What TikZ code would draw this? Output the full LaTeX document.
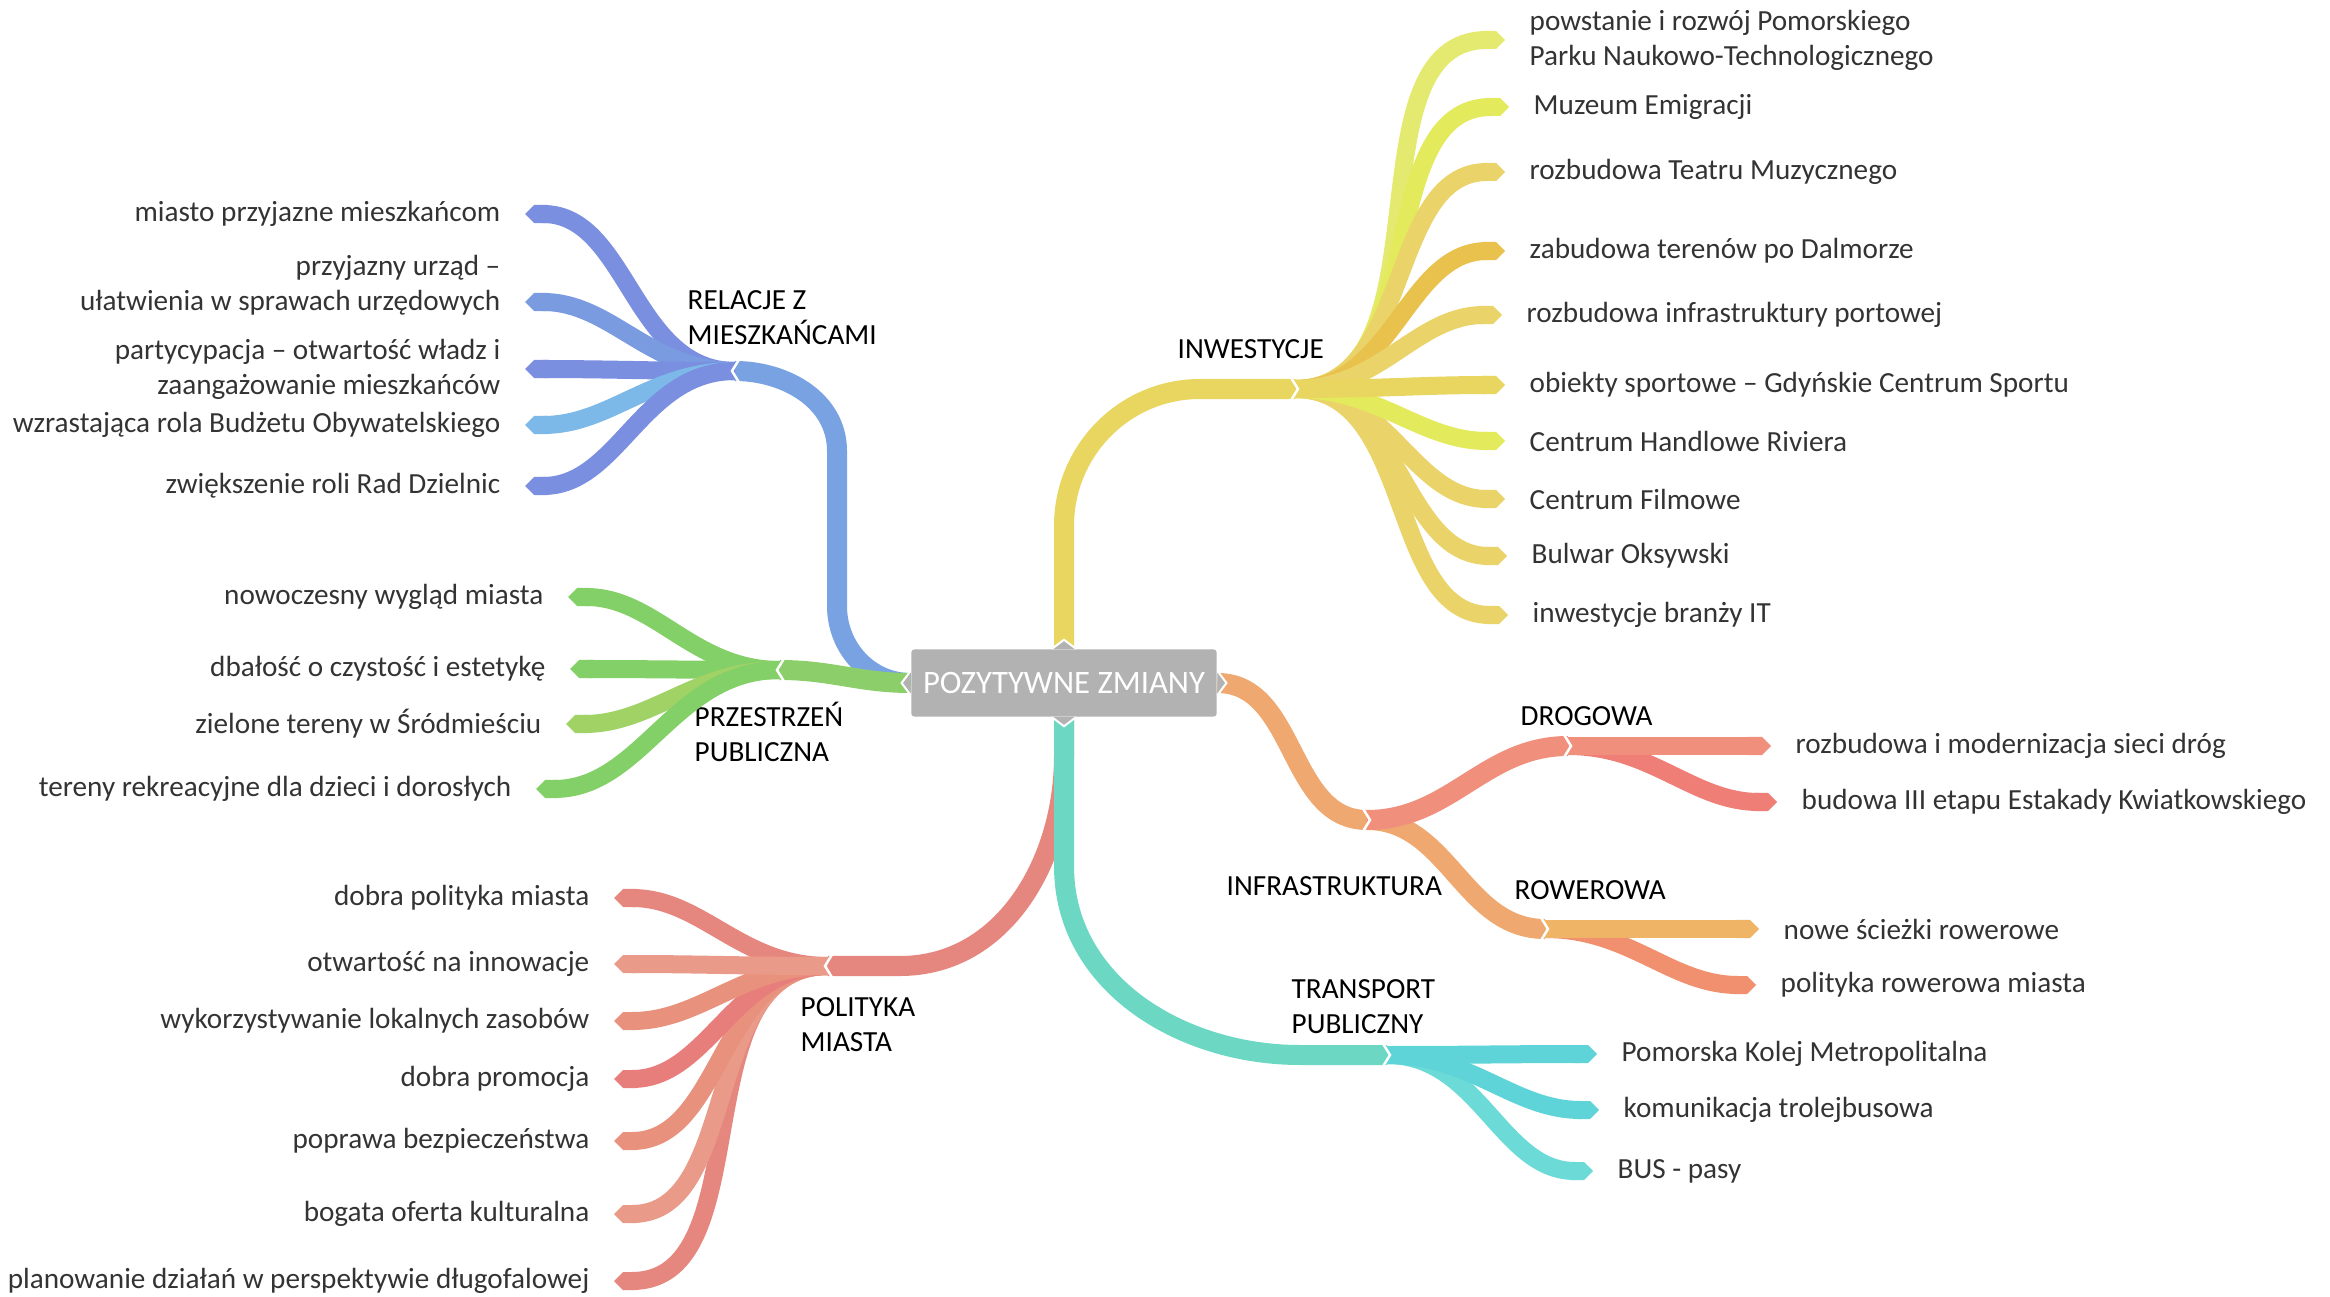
\documentclass[tikz,border=0pt]{standalone}
\usepackage{fontspec}
\setmainfont{Carlito}
\usetikzlibrary{arrows.meta,calc}

\definecolor{blauA}{HTML}{78A2E2}
\definecolor{blauB}{HTML}{7B8FE0}
\definecolor{blauC}{HTML}{7A9BE0}
\definecolor{blauD}{HTML}{7DB9E8}
\definecolor{gruenA}{HTML}{8CCF6A}
\definecolor{gruenB}{HTML}{84D068}
\definecolor{gruenC}{HTML}{A0D266}
\definecolor{lachsA}{HTML}{E6877F}
\definecolor{lachsB}{HTML}{E99A88}
\definecolor{lachsC}{HTML}{E87E7C}
\definecolor{lachsD}{HTML}{E8927E}
\definecolor{gelbA}{HTML}{E8D660}
\definecolor{gelbB}{HTML}{E3EA5C}
\definecolor{gelbC}{HTML}{EAD46A}
\definecolor{gelbD}{HTML}{E9C24E}
\definecolor{gelbE}{HTML}{E4EA70}
\definecolor{orangeA}{HTML}{EEA870}
\definecolor{drogA}{HTML}{F0907C}
\definecolor{drogB}{HTML}{EE7E76}
\definecolor{rowA}{HTML}{F0B466}
\definecolor{rowB}{HTML}{F0906E}
\definecolor{tuerkisA}{HTML}{6CD8C4}
\definecolor{tuerkisB}{HTML}{5ED4D8}
\definecolor{tuerkisC}{HTML}{6CDAD6}

\tikzset{
	leafL/.style={anchor=east, align=right, inner xsep=0.24cm, inner ysep=0pt, font=\fontsize{8.3}{10}\selectfont, text=black!80},
	leafR/.style={leafL, anchor=west, align=left},
	topic/.style={anchor=west, align=left, inner sep=0pt, font=\fontsize{8.3}{10}\selectfont},
	wurzel/.style={fill=black!30, rounded corners=0.03cm, text=white, minimum width=3.05cm, minimum height=0.67cm, font=\fontsize{9.3}{11}\selectfont},
	ast/.style={line width=0.2cm},
	zweig/.style={line width=0.18cm, -{Triangle Cap}},
	notch/.pic={\draw[white, line width=0.025cm] (-5,13) -- (3,0) -- (-5,-13);},
	tab/.pic={\filldraw[fill=black!30, draw=white, line width=0.02cm] (0,12) -- (9,0) -- (0,-12);},
}

\begin{document}
\begin{tikzpicture}[x=0.01cm, y=0.01cm]
	\useasboundingbox (0,0) rectangle (2330,1296); % Rand wie im Original
	
	\node[wurzel] (root) at (1064,613) {POZYTYWNE ZMIANY};
	
	% Themen
	\node[topic] (rel) at (687,978) {RELACJE Z\\MIESZKAŃCAMI};
	\node[topic] (prz) at (694,564) {PRZESTRZEŃ\\PUBLICZNA};
	\node[topic] (pol) at (800,271) {POLITYKA\\MIASTA};
	\node[topic] (inw) at (1177,947) {INWESTYCJE};
	\node[topic] (inf) at (1226,410) {INFRASTRUKTURA};
	\node[topic] (drog) at (1520,580) {DROGOWA};
	\node[topic] (row) at (1514,406) {ROWEROWA};
	\node[topic] (tra) at (1291,289) {TRANSPORT\\PUBLICZNY};
	
	% Blaetter links
	\node[leafL] (r1) at (525,1082) {miasto przyjazne mieszkańcom};
	\node[leafL] (r2) at (525,1011) {przyjazny urząd –\\ułatwienia w sprawach urzędowych};
	\node[leafL] (r3) at (525,927) {partycypacja – otwartość władz i\\zaangażowanie mieszkańców};
	\node[leafL] (r4) at (525,871) {wzrastająca rola Budżetu Obywatelskiego};
	\node[leafL] (r5) at (525,810) {zwiększenie roli Rad Dzielnic};
	
	\node[leafL] (p1) at (568,699) {nowoczesny wygląd miasta};
	\node[leafL] (p2) at (570,627) {dbałość o czystość i estetykę};
	\node[leafL] (p3) at (566,572) {zielone tereny w Śródmieściu};
	\node[leafL] (p4) at (536,507) {tereny rekreacyjne dla dzieci i dorosłych};
	
	\node[leafL] (m1) at (614,398) {dobra polityka miasta};
	\node[leafL] (m2) at (614,332) {otwartość na innowacje};
	\node[leafL] (m3) at (614,275) {wykorzystywanie lokalnych zasobów};
	\node[leafL] (m4) at (614,217) {dobra promocja};
	\node[leafL] (m5) at (614,155) {poprawa bezpieczeństwa};
	\node[leafL] (m6) at (614,82) {bogata oferta kulturalna};
	\node[leafL] (m7) at (614,15) {planowanie działań w perspektywie długofalowej};
	
	% Blaetter rechts
	\node[leafR] (i1) at (1505,1256) {powstanie i rozwój Pomorskiego\\Parku Naukowo-Technologicznego};
	\node[leafR] (i2) at (1509,1189) {Muzeum Emigracji};
	\node[leafR] (i3) at (1505,1124) {rozbudowa Teatru Muzycznego};
	\node[leafR] (i4) at (1505,1045) {zabudowa terenów po Dalmorze};
	\node[leafR] (i5) at (1502,981) {rozbudowa infrastruktury portowej};
	\node[leafR] (i6) at (1505,911) {obiekty sportowe – Gdyńskie Centrum Sportu};
	\node[leafR] (i7) at (1505,855) {Centrum Handlowe Riviera};
	\node[leafR] (i8) at (1505,797) {Centrum Filmowe};
	\node[leafR] (i9) at (1507,740) {Bulwar Oksywski};
	\node[leafR] (i10) at (1508,681) {inwestycje branży IT};
	
	\node[leafR] (d1) at (1771,550) {rozbudowa i modernizacja sieci dróg};
	\node[leafR] (d2) at (1777,494) {budowa III etapu Estakady Kwiatkowskiego};
	\node[leafR] (w1) at (1759,367) {nowe ścieżki rowerowe};
	\node[leafR] (w2) at (1756,311) {polityka rowerowa miasta};
	
	\node[leafR] (t1) at (1597,242) {Pomorska Kolej Metropolitalna};
	\node[leafR] (t2) at (1599,186) {komunikacja trolejbusowa};
	\node[leafR] (t3) at (1593,125) {BUS - pasy};
	
	% Verzweigungen
	\coordinate (relhub) at (735,925);
	\coordinate (przhub) at (780,626);
	\coordinate (polhub) at (828,330);
	\coordinate (inwhub) at (1295,907);
	\coordinate (infhub) at (1367,476);
	\coordinate (droghub) at (1568,550);
	\coordinate (rowhub) at (1545,367);
	\coordinate (trahub) at (1387,241);
	
	% Hauptaeste
	\draw[ast, blauA] (root.west) to[out=180, in=-90] (837,690) -- (837,845) to[out=90, in=0] (relhub);
	\draw[ast, gruenA] (root.west) to[out=180, in=0] (przhub);
	\draw[ast, lachsA] (root.south) -- (1064,540) to[out=-90, in=0] (900,330) -- (polhub);
	\draw[ast, tuerkisA] (root.south) -- (1064,430) to[out=-90, in=180] (1300,241) -- (trahub);
	\draw[ast, gelbA] (root.north) -- (1064,770) to[out=90, in=180] (1200,907) -- (inwhub);
	\draw[ast, orangeA] (root.east) to[out=0, in=180] (infhub);
	\draw[ast, orangeA] (infhub) to[out=0, in=180] (rowhub);
	\draw[ast, drogA] (infhub) to[out=0, in=180] (droghub);
	
	% Zweige
	\draw[zweig, blauB] (relhub) to[out=180, in=0] (r1.east);
	\draw[zweig, blauC] (relhub) to[out=180, in=0] ($(r2.east)+(0,-17)$);
	\draw[zweig, blauB] (relhub) to[out=180, in=0] (r3.east);
	\draw[zweig, blauD] (relhub) to[out=180, in=0] (r4.east);
	\draw[zweig, blauB] (relhub) to[out=180, in=0] (r5.east);
	
	\draw[zweig, gruenB] (przhub) to[out=180, in=0] (p1.east);
	\draw[zweig, gruenB] (przhub) to[out=180, in=0] (p2.east);
	\draw[zweig, gruenC] (przhub) to[out=180, in=0] (p3.east);
	\draw[zweig, gruenB] (przhub) to[out=180, in=0] (p4.east);
	
	\draw[zweig, lachsA] (polhub) to[out=180, in=0] (m7.east);
	\draw[zweig, lachsB] (polhub) to[out=180, in=0] (m6.east);
	\draw[zweig, lachsD] (polhub) to[out=180, in=0] (m5.east);
	\draw[zweig, lachsC] (polhub) to[out=180, in=0] (m4.east);
	\draw[zweig, lachsD] (polhub) to[out=180, in=0] (m3.east);
	\draw[zweig, lachsA] (polhub) to[out=180, in=0] (m1.east);
	\draw[zweig, lachsB] (polhub) to[out=180, in=0] (m2.east);
	
	\draw[zweig, gelbE] (inwhub) to[out=0, in=180] (i1.west);
	\draw[zweig, gelbB] (inwhub) to[out=0, in=180] (i2.west);
	\draw[zweig, gelbC] (inwhub) to[out=0, in=180] (i3.west);
	\draw[zweig, gelbD] (inwhub) to[out=0, in=180] (i4.west);
	\draw[zweig, gelbC] (inwhub) to[out=0, in=180] (i5.west);
	\draw[zweig, gelbC] (inwhub) to[out=0, in=180] (i10.west);
	\draw[zweig, gelbC] (inwhub) to[out=0, in=180] (i9.west);
	\draw[zweig, gelbC] (inwhub) to[out=0, in=180] (i8.west);
	\draw[zweig, gelbB] (inwhub) to[out=0, in=180] (i7.west);
	\draw[zweig, gelbA] (inwhub) to[out=0, in=180] (i6.west);
	
	\draw[zweig, drogB] (droghub) to[out=0, in=180] (d2.west);
	\draw[zweig, drogA] (droghub) to[out=0, in=180] (d1.west);
	\draw[zweig, rowB] (rowhub) to[out=0, in=180] (w2.west);
	\draw[zweig, rowA] (rowhub) to[out=0, in=180] (w1.west);
	
	\draw[zweig, tuerkisC] (trahub) to[out=0, in=180] (t3.west);
	\draw[zweig, tuerkisB] (trahub) to[out=0, in=180] (t2.west);
	\draw[zweig, tuerkisB] (trahub) to[out=0, in=180] (t1.west);
	
	% Kerben an den Knoten
	\pic[rotate=180] at (relhub) {notch};
	\pic[rotate=180] at (przhub) {notch};
	\pic[rotate=180] at (polhub) {notch};
	\pic at (inwhub) {notch};
	\pic at (infhub) {notch};
	\pic at (droghub) {notch};
	\pic at (rowhub) {notch};
	\pic at (trahub) {notch};
	
	\pic[rotate=180] at (root.west) {tab};
	\pic at (root.east) {tab};
	\pic[rotate=90] at (root.north) {tab};
	\pic[rotate=-90] at (root.south) {tab};
\end{tikzpicture}
\end{document}
